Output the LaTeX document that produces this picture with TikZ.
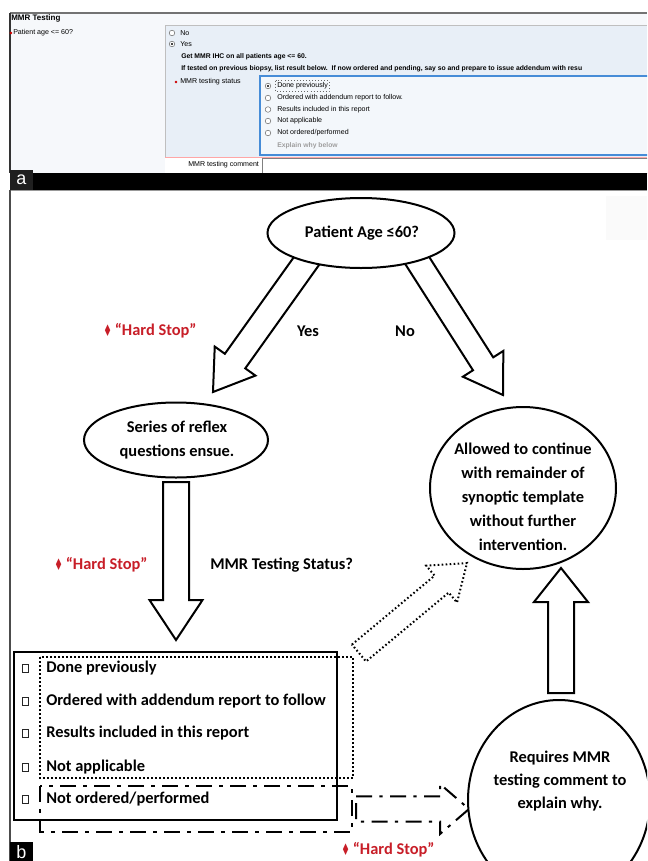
\documentclass[tikz,border=0pt]{standalone}
\usepackage{fontspec}
\setmainfont{Carlito}
\newfontfamily\uifont{Liberation Sans}
\newfontfamily\symf{DejaVu Sans}
\usetikzlibrary{calc,shapes.geometric}
\definecolor{hardred}{RGB}{200,30,40}
\definecolor{panelbg}{RGB}{246,248,251}
\definecolor{boxbg}{RGB}{232,239,247}
\definecolor{uiblue}{RGB}{70,140,215}
\newcommand\blockarrow[6]{% style, tail, tip, shaft half, head half, head length
  \coordinate (ba-h) at ($(#3)!#6!(#2)$);
  \draw[#1] ($(#2)!#4!90:(#3)$) -- ($(ba-h)!#4!90:(#3)$) -- ($(ba-h)!#5!90:(#3)$) -- (#3)
     -- ($(ba-h)!#5!-90:(#3)$) -- ($(ba-h)!#4!-90:(#3)$) -- ($(#2)!#4!-90:(#3)$) -- cycle;
}
\newcommand\hardstop{{\symf\fontsize{12}{12}\selectfont\raisebox{-0.3pt}{\scalebox{0.6}[1]{♦}}}\,“Hard Stop”}
\tikzset{
  ui/.style={font=\uifont\fontsize{5.3}{6}\selectfont, anchor=west, inner sep=0pt},
  uib/.style={font=\uifont\bfseries\fontsize{5.1}{6}\selectfont, anchor=west, inner sep=0pt},
  ftext/.style={font=\bfseries\fontsize{12.3}{18}\selectfont, inner sep=0pt, align=center},
  hstext/.style={ftext, text=hardred},
  bubble/.style={ellipse, draw=black, line width=1.5pt, fill=white, inner sep=0pt},
  blk/.style={draw=black, line width=1.5pt, fill=white, line join=miter},
  dotblk/.style={draw=black, line width=1.5pt, dash pattern=on 1.2pt off 1.8pt, line join=miter},
  dashdotblk/.style={draw=black, line width=1.5pt, dash pattern=on 12pt off 5.5pt on 2.5pt off 5.5pt, line join=miter},
  radio/.style={draw=black!55, fill=white, line width=0.4pt},
  chk/.style={draw=black!85, line width=0.7pt},
}
\begin{document}
\begin{tikzpicture}[x=0.75pt,y=-0.75pt]
\useasboundingbox (0,0) rectangle (647,861);
\clip (0,0) rectangle (647,861);
\fill[white] (0,0) rectangle (647,861);

% ---------------- panel a ----------------
\fill[panelbg] (10,13) rectangle (647,173);
\fill[boxbg] (165,25) rectangle (647,157);
\draw[black!25, line width=0.5pt] (165,157) -- (165,25) -- (647,25);
\draw[black!55, line width=1pt] (10,13) -- (647,13);
\draw[black!80, line width=0.8pt] (10,13) -- (10,173);
\node[uib, font=\uifont\bfseries\fontsize{6}{7}\selectfont] (mmrtitle) at (11,18) {MMR Testing};
\fill[red!80!black] (10.8,33) circle (1.1pt);
\node[ui] (agelbl) at (13,33) {Patient age <= 60?};
\draw[radio] (172,33) circle (2.1pt);
\node[ui] (nolbl) at (180,33) {No};
\draw[radio] (172,44) circle (2.1pt);
\fill[black] (172,44) circle (0.9pt);
\node[ui] (yeslbl) at (180,44.5) {Yes};
\node[uib] (getmmr) at (181,57) {Get MMR IHC on all patients age <= 60.};
\node[uib] (iftested) at (181,69) {If tested on previous biopsy, list result below.\ \ If now ordered and pending, say so and prepare to issue addendum with resu};
\draw[uiblue, line width=0.9pt, fill=boxbg!50!white] (260,76) rectangle (652,155);
\fill[red!80!black] (176,82) circle (1.1pt);
\node[ui] (statuslbl) at (180,82) {MMR testing status};
\foreach \yy/\tt [count=\i] in {86/{Done previously},98/{Ordered with addendum report to follow.},109.5/{Results included in this report},121/{Not applicable},133/{Not ordered/performed}}{
  \draw[radio] (268,\yy) circle (2.1pt);
  \node[ui] (opt\i) at (277,\yy) {\tt};
}
\fill[black] (268,86) circle (0.9pt);
\draw[black!60, dotted, line width=0.3pt] (275.5,80.5) rectangle (329,91.5);
\node[uib, text=black!38] (explainlbl) at (277,146) {Explain why below};
\fill[white] (165,157.5) rectangle (647,173);
\draw[red!35, line width=0.5pt] (165,157.5) -- (647,157.5);
\node[ui] (commentlbl) at (188,164.5) {MMR testing comment};
\draw[black!50, fill=white, line width=0.5pt] (262,158.5) rectangle (652,173);

% black band and labels
\fill[black] (10,173) rectangle (647,190);
\fill[black!88] (10,170) rectangle (33,190);
\node[text=white, font=\uifont\fontsize{13.5}{14}\selectfont, inner sep=0pt] (alabel) at (21.5,180) {a};
\draw[black!40, line width=0.6pt] (10,190.5) -- (647,190.5);
\draw[black!70, line width=0.8pt] (10,190) -- (10,861);
\fill[black!2] (606,196) rectangle (647,240);

% ---------------- panel b ----------------
\coordinate (yestail) at (312.7,252.3);
\coordinate (yestip) at (213,392);
\coordinate (notail) at (411.4,251.4);
\coordinate (notip) at (503,395);
\blockarrow{blk}{yestail}{yestip}{9.4pt}{18.75pt}{28.5pt}
\blockarrow{blk}{notail}{notip}{9pt}{18pt}{27.75pt}

\node[bubble, minimum width=140.25pt, minimum height=52.5pt] (age) at (361,233) {};
\node[ftext] (agetxt) at (362,233) {Patient Age ≤60?};

\node[hstext] (hs1) at (150,331) {\hardstop};
\node[ftext] (yes) at (308,331) {Yes};
\node[ftext] (no) at (405,331) {No};

\node[bubble, minimum width=138pt, minimum height=56.25pt] (reflex) at (176,440) {};
\node[ftext] (reflextxt) at (177,440.5) {Series of reflex\\questions ensue.};

\coordinate (downtail) at (176,482);
\coordinate (downtip) at (176,640);
\blockarrow{blk}{downtail}{downtip}{9.75pt}{19.9pt}{30pt}

\node[hstext] (hs2) at (101,565) {\hardstop};
\node[ftext, anchor=west] (status) at (210,565) {MMR Testing Status?};

\node[bubble, minimum width=139.5pt, minimum height=121.5pt] (allowed) at (523,488) {};
\node[ftext] (allowedtxt) at (523,497) {Allowed to continue\\with remainder of\\synoptic template\\without further\\intervention.};

\coordinate (uptail) at (561,693);
\coordinate (uptip) at (561,568);
\blockarrow{blk}{uptail}{uptip}{9.75pt}{20.25pt}{25.5pt}

\node[bubble, minimum width=136.5pt, minimum height=150pt] (requires) at (559,800) {};
\node[ftext, font=\bfseries\fontsize{12.3}{17.6}\selectfont] (requirestxt) at (560,781) {Requires MMR\\testing comment to\\explain why.};

% status list
\node[draw=black, line width=2pt, minimum width=242.25pt, minimum height=126pt, inner sep=0pt] (list) at (175.5,736) {};
\draw[dotblk] (40,657) rectangle (353,778);
\draw[dashdotblk] (40,786) rectangle (352,832);
\foreach \yy/\tt [count=\i] in {668/{Done previously},701/{Ordered with addendum report to follow},733/{Results included in this report},767/{Not applicable},799/{Not ordered/performed}}{
  \draw[chk] (22.5,\yy-4) rectangle (28.5,\yy+4);
  \node[ftext, anchor=west] (item\i) at (46,\yy) {\tt};
}

\coordinate (dottail) at (359,653);
\coordinate (dottip) at (467,563);
\blockarrow{dotblk}{dottail}{dottip}{8.25pt}{18pt}{24.75pt}

\coordinate (ddtail) at (356,809);
\coordinate (ddtip) at (469,809);
\blockarrow{dashdotblk}{ddtail}{ddtip}{9.4pt}{18.75pt}{21.75pt}

\node[hstext] (hs3) at (388,850) {\hardstop};

\fill[black] (10,842) rectangle (33,861);
\node[text=white, font=\uifont\fontsize{13.5}{14}\selectfont, inner sep=0pt] (blabel) at (21.5,852) {b};
\end{tikzpicture}
\end{document}
